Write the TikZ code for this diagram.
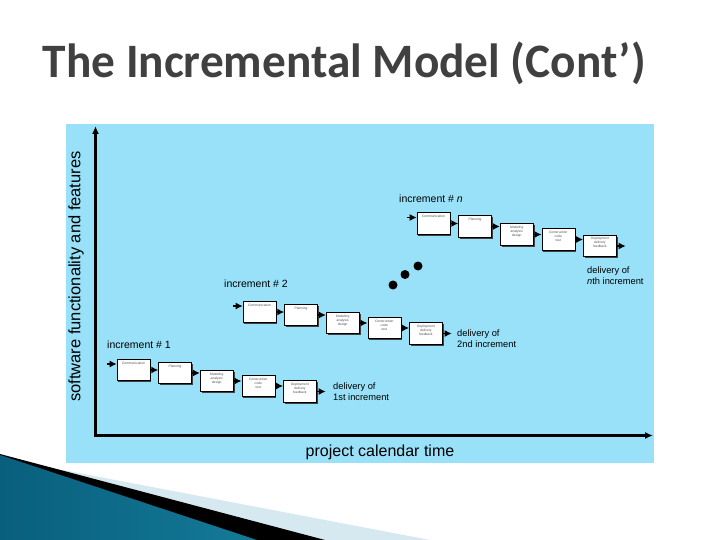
\documentclass[tikz,border=0pt]{standalone}
\usepackage{fontspec}
\setmainfont{Liberation Sans}
\newfontfamily\titlefont{Carlito}[FakeStretch=0.985]
\usepackage{xcolor}
\usetikzlibrary{positioning}
\usetikzlibrary{arrows.meta}
\usetikzlibrary{shadows}

\definecolor{panelblue}{RGB}{152,225,249}
\definecolor{titlegray}{RGB}{64,64,64}
\definecolor{tealdark}{RGB}{8,95,125}
\definecolor{teallight}{RGB}{58,162,198}
\definecolor{tealmid}{RGB}{20,122,152}
\definecolor{stripegray}{RGB}{214,232,240}

\begin{document}
\begin{tikzpicture}[
        x=1pt, y=-1pt,
        node distance=8pt,
        stage/.style={rectangle, draw=black, line width=0.6pt, fill=white, text width=31pt, inner xsep=1pt, inner ysep=1.75pt, text height=3pt, text depth=15pt, align=center, font=\fontsize{3.3}{4}\selectfont, text=black!70, drop shadow={shadow xshift=1.3pt, shadow yshift=-1.3pt, fill=black!75, opacity=1}},
        flow/.style={-{Latex[length=7pt,width=7pt]}, line width=1.6pt},
        axis/.style={{Latex[length=8pt,width=7pt]}-{Latex[length=8pt,width=7pt]}, line width=2.6pt},
        inctext/.style={anchor=base west, inner sep=0pt, font=\fontsize{10.5}{12}\selectfont},
        deliv/.style={anchor=north west, inner sep=0pt, align=left, font=\fontsize{9.3}{11.3}\selectfont},
        dot/.style={circle, fill=black, inner sep=0pt, minimum size=9pt},
        titletext/.style={anchor=base west, inner sep=0pt, font=\titlefont\bfseries\fontsize{48}{56}\selectfont}
    ]

        \useasboundingbox (0,0) rectangle (720,540);
        \fill[white] (0,0) rectangle (720,540);

        % slide corner
        \fill[stripegray] (0,458) -- (430,540) -- (0,540) -- cycle;
        \fill[black] (0,454) -- (325,540) -- (0,540) -- cycle;
        \shade[left color=tealdark, middle color=teallight, right color=tealmid] (0,455) -- (257,540) -- (0,540) -- cycle;

        % title
        \node[titletext, text=titlegray] (title) at (42.7,77.7) {The Incremental Model (Cont’)};

        % panel and axes
        \fill[panelblue] (66,124) rectangle (654,463);
        \coordinate (origin) at (95.5,435.5);
        \coordinate (ytop) at (95.5,126);
        \coordinate (xend) at (653,435.5);
        \draw[axis] (ytop) -- (origin) -- (xend);
        \node[font=\fontsize{16.5}{18}\selectfont, rotate=90] (ylab) at (76,276.5) {software functionality and features};
        \node[font=\fontsize{16}{18}\selectfont] (xlab) at (380,452.5) {project calendar time};

        % increment 1
        \node[stage] (a1) at (133.5,370) {Communication};
        \node[stage, right=of a1, yshift=-3pt] (a2) {Planning};
        \node[stage, right=of a2, yshift=-8pt] (a3) {Modeling\\analysis\\design};
        \node[stage, right=of a3, yshift=-5pt] (a4) {Construction\\code\\test};
        \node[stage, right=of a4, yshift=-5.5pt] (a5) {Deployment\\delivery\\feedback};
        \coordinate[left=10pt of a1, yshift=6pt] (a0);
        \coordinate[right=9pt of a5] (a6);

        \draw[flow] (a0) -- (a0 -| a1.west);
        \draw[flow] (a1.east) -- (a1.east -| a2.west);
        \draw[flow] (a2.east) -- (a2.east -| a3.west);
        \draw[flow] (a3.east) -- (a3.east -| a4.west);
        \draw[flow] (a4.east) -- (a4.east -| a5.west);
        \draw[flow] (a5.east) -- (a6);

        \node[inctext] (inc1) at (107,348) {increment \# 1};
        \node[deliv] (del1) at (333,382.5) {delivery of\\1st increment};

        % increment 2
        \node[stage] (b1) at (259.5,312) {Communication};
        \node[stage, right=of b1, yshift=-3pt] (b2) {Planning};
        \node[stage, right=of b2, yshift=-8pt] (b3) {Modeling\\analysis\\design};
        \node[stage, right=of b3, yshift=-5pt] (b4) {Construction\\code\\test};
        \node[stage, right=of b4, yshift=-5.5pt] (b5) {Deployment\\delivery\\feedback};
        \coordinate[left=10pt of b1, yshift=6pt] (b0);
        \coordinate[right=9pt of b5] (b6);

        \draw[flow] (b0) -- (b0 -| b1.west);
        \draw[flow] (b1.east) -- (b1.east -| b2.west);
        \draw[flow] (b2.east) -- (b2.east -| b3.west);
        \draw[flow] (b3.east) -- (b3.east -| b4.west);
        \draw[flow] (b4.east) -- (b4.east -| b5.west);
        \draw[flow] (b5.east) -- (b6);

        \node[inctext] (inc2) at (224,287) {increment \# 2};
        \node[deliv] (del2) at (457,329.5) {delivery of\\2nd increment};

        % increment n
        \node[stage] (c1) at (433.5,223.5) {Communication};
        \node[stage, right=of c1, yshift=-3pt] (c2) {Planning};
        \node[stage, right=of c2, yshift=-8pt] (c3) {Modeling\\analysis\\design};
        \node[stage, right=of c3, yshift=-5pt] (c4) {Construction\\code\\test};
        \node[stage, right=of c4, yshift=-6.5pt] (c5) {Deployment\\delivery\\feedback};
        \coordinate[left=10pt of c1, yshift=6pt] (c0);
        \coordinate[right=9pt of c5] (c6);

        \draw[flow] (c0) -- (c0 -| c1.west);
        \draw[flow] (c1.east) -- (c1.east -| c2.west);
        \draw[flow] (c2.east) -- (c2.east -| c3.west);
        \draw[flow] (c3.east) -- (c3.east -| c4.west);
        \draw[flow] (c4.east) -- (c4.east -| c5.west);
        \draw[flow] (c5.east) -- (c6);

        \node[inctext] (incn) at (399,203) {increment \# \textit{n}};
        \node[deliv] (deln) at (587,266.5) {delivery of\\\textit{n}th increment};

        % ellipsis between increments
        \node[dot] (dot1) at (393,285) {};
        \node[dot] (dot2) at (405,274.5) {};
        \node[dot] (dot3) at (418,266) {};
    \end{tikzpicture}
\end{document}
